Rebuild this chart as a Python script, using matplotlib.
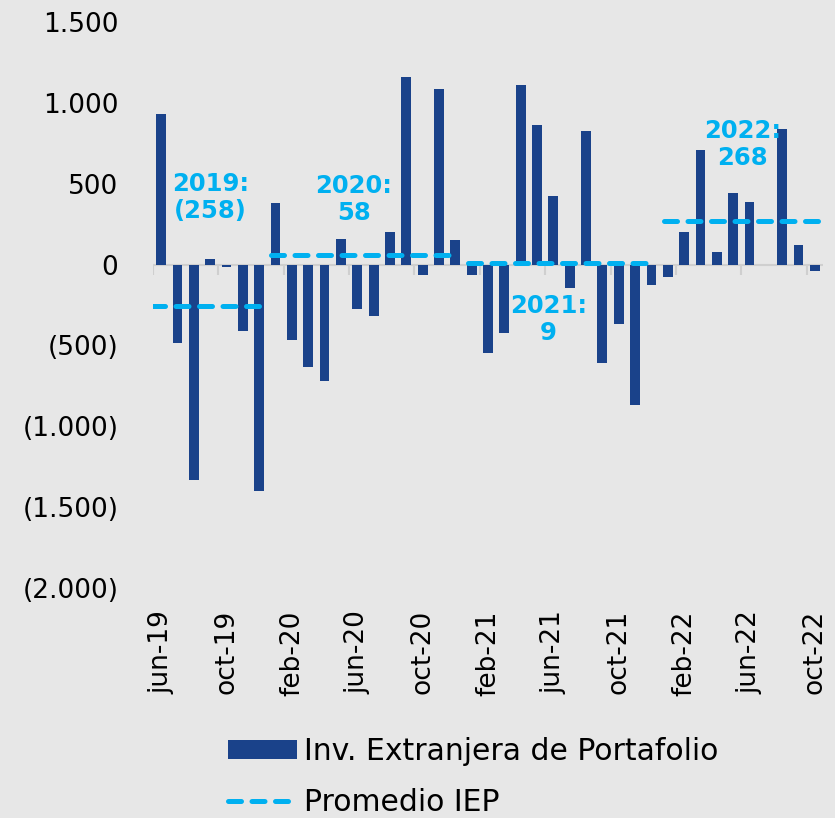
import matplotlib
matplotlib.use('Agg')
import matplotlib.pyplot as plt
from matplotlib.ticker import FuncFormatter
from matplotlib.lines import Line2D
from matplotlib.patches import Patch

# monthly foreign portfolio investment, jun-19 .. oct-22
meses = ['ene', 'feb', 'mar', 'abr', 'may', 'jun', 'jul', 'ago', 'sep', 'oct', 'nov', 'dic']
years = [19, 20, 21, 22]
first_month = {19: 5}
last_month = {22: 9}
labels = []
for yr in years:
    for m in range(first_month.get(yr, 0), last_month.get(yr, 11) + 1):
        labels.append(meses[m] + '-' + str(yr))

iep = [929, -483, -1331, 37, -12, -409, -1399,
       378, -464, -632, -718, 161, -272, -316, 204, 1158, -62, 1084, 149,
       -62, -545, -421, 1108, 861, 421, -142, 824, -607, -365, -867, -124,
       -74, 204, 706, 80, 440, 384, -5, 836, 118, -37]

prom_years = ['2019', '2020', '2021', '2022']
prom_vals = [-258, 58, 9, 268]
prom_text = ['2019:\n(258)', '2020:\n58', '2021:\n9', '2022:\n268']
# label anchor (category index, value)
txt_x = [3.0, 11.8, 23.7, 35.6]
txt_y = [415, 402, -340, 743]

bar_col = '#1a428a'
avg_col = '#00b0f0'
bg = '#e7e7e7'

plt.rcParams['font.family'] = ['DejaVu Sans']
fig = plt.figure(figsize=(8.35, 8.18), dpi=100, facecolor=bg)
ax = fig.add_axes([153/835, 1-588/818, 670/835, 566/818])
ax.set_facecolor(bg)

x = list(range(len(iep)))
ax.bar(x, iep, width=0.6, color=bar_col, zorder=3)

# yearly average lines over the months of each year
idx = 0
for yr, val in zip(years, prom_vals):
    n = sum(1 for l in labels if l.endswith('-' + str(yr)))
    x0 = idx - 0.25 if idx > 0 else -0.55
    x1 = idx + n - 1 + 0.2
    ax.plot([x0, x1], [val, val], color=avg_col, lw=3.6, dashes=(2.6, 2.1),
            dash_capstyle='round', zorder=4)
    idx += n

for tx, ty, t in zip(txt_x, txt_y, prom_text):
    ax.text(tx, ty, t, color=avg_col, fontsize=17.5, fontweight='bold',
            ha='center', va='center', linespacing=1.15, zorder=5)

ax.set_xlim(-0.5, len(iep) - 0.5)
ax.set_ylim(-2000, 1500)

# zero line with category boundary ticks
ax.axhline(0, color='#cfcfcf', lw=1.5, zorder=2)
zero_frac = 2000 / 3500
bounds = [i - 0.5 for i in range(0, len(iep), 4)]
ax.vlines(bounds, zero_frac - 0.018, zero_frac, transform=ax.get_xaxis_transform(),
          color='#cfcfcf', lw=1.5, zorder=2)

ax.set_xticks(x[::4])
ax.set_xticklabels(labels[::4], rotation=90, fontsize=19)
ax.tick_params(axis='x', length=0, pad=16)
ax.set_yticks(range(-2000, 1501, 500))
ax.yaxis.set_major_formatter(FuncFormatter(
    lambda v, p: '0' if v == 0 else ('{:,.0f}'.format(v).replace(',', '.') if v > 0
                                     else '(' + '{:,.0f}'.format(-v).replace(',', '.') + ')')))
ax.tick_params(axis='y', length=0, pad=25, labelsize=19)
for s in ax.spines.values():
    s.set_visible(False)

handles = [Patch(facecolor=bar_col),
           Line2D([0], [0], color=avg_col, lw=3.6, dashes=(2.6, 2.1), dash_capstyle='round')]
fig.legend(handles, ['Inv. Extranjera de Portafolio', 'Promedio IEP'],
           loc='center left', bbox_to_anchor=(228/835, 1-777/818), frameon=False,
           fontsize=21.5, handlelength=2.3, handleheight=0.62, handletextpad=0.25,
           labelspacing=0.72, borderpad=0, borderaxespad=0)

plt.savefig('out.png', dpi=100, facecolor=bg)
plt.close()
